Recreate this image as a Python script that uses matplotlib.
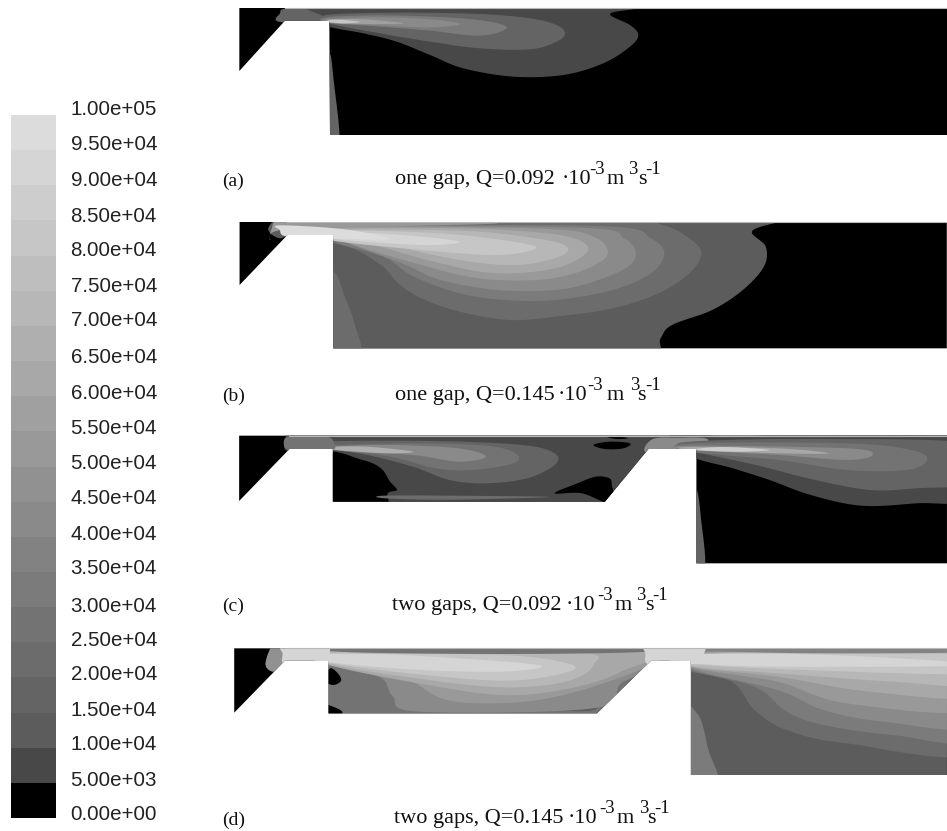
import matplotlib
matplotlib.use('Agg')
import matplotlib.pyplot as plt
from matplotlib.patches import Polygon
import numpy as np

W, H = 947, 831

# colour scale
bar_grays = [0, 72, 92, 100, 108, 115, 123, 130, 138, 145, 153, 160, 168, 175, 183, 190, 198, 205, 213, 220]
bar_labels = ['0.00e+00', '5.00e+03', '1.00e+04', '1.50e+04', '2.00e+04', '2.50e+04', '3.00e+04',
              '3.50e+04', '4.00e+04', '4.50e+04', '5.00e+04', '5.50e+04', '6.00e+04', '6.50e+04',
              '7.00e+04', '7.50e+04', '8.00e+04', '8.50e+04', '9.00e+04', '9.50e+04', '1.00e+05']
bar_label_y = [812, 778, 742, 708, 672, 638, 604, 567, 532, 496, 461, 426, 391, 355, 318, 284, 248, 214, 178, 143, 107]

# panel (a) outlines
a_domain = [(28, 24), (2151, 24), (2151, 405), (300, 405), (298, 62), (165, 62), (28, 213)]
a_gap = [(150, 66), (150, 40), (170, 25), (300, 20), (320, 66)]
a_wall = [(298, 170), (312, 250), (328, 430), (285, 430)]
a_l1 = [(290, 78), (400, 100), (500, 125), (600, 165), (700, 205), (850, 230), (1000, 225), (1120, 190),
        (1200, 140), (1225, 105), (1200, 75), (1140, 42), (1220, 26), (1300, 10), (800, 10), (250, 10), (280, 50)]
a_l2 = [(290, 68), (450, 100), (600, 125), (750, 145), (900, 148), (980, 125), (1005, 100), (980, 75),
        (900, 55), (750, 42), (500, 38), (290, 45)]
a_l3 = [(290, 68), (450, 80), (600, 92), (750, 107), (830, 85), (780, 65), (650, 52), (450, 46), (290, 52)]
a_l4 = [(295, 68), (450, 76), (600, 82), (690, 72), (600, 58), (450, 52), (295, 58)]
a_l5 = [(298, 68), (400, 72), (520, 70), (400, 58), (298, 58)]
a_l6 = [(298, 66), (340, 70), (390, 66), (340, 60), (298, 60)]
a_shapes = [(3, a_gap), (1, a_l1), (3, a_wall), (3, a_l2), (6, a_l3), (8, a_l4), (11, a_l5), (16, a_l6)]

# panel (b) outlines
b_domain = [(25, 36), (1873, 36), (1873, 415), (270, 415), (270, 75), (150, 75), (25, 225)]
b_l1 = [(1460, 30), (1365, 62), (1400, 110), (1395, 170), (1340, 240), (1260, 300), (1155, 345), (1125, 385),
        (1095, 450), (800, 470), (200, 470), (200, 85), (130, 85), (100, 60), (115, 30), (125, 20), (300, 20),
        (1400, 20), (1500, 20)]
b_wall = [(275, 190), (300, 260), (325, 340), (340, 440), (240, 440), (240, 190)]
b_l2 = [(270, 100), (330, 120), (400, 170), (440, 220), (500, 265), (600, 305), (730, 330), (850, 320), (1000, 295),
        (1120, 250), (1200, 190), (1232, 130), (1200, 85), (1130, 45), (1000, 30), (240, 30), (240, 100)]
b_l3 = [(270, 95), (400, 140), (480, 200), (600, 250), (720, 270), (850, 270), (1000, 240), (1100, 190),
        (1135, 130), (1100, 85), (1000, 50), (500, 45), (250, 50)]
b_l4 = [(300, 95), (450, 160), (550, 210), (700, 240), (850, 240), (950, 215), (1040, 170), (1060, 125),
        (1030, 85), (950, 55), (500, 48), (260, 50)]
b_l5 = [(300, 95), (500, 165), (650, 205), (800, 210), (900, 190), (975, 150), (985, 115), (950, 80),
        (850, 58), (500, 50), (260, 55)]
b_l6 = [(350, 95), (550, 160), (700, 190), (850, 175), (930, 130), (920, 95), (830, 70), (600, 55), (260, 58)]
b_l7 = [(400, 100), (600, 150), (750, 165), (860, 140), (880, 110), (800, 85), (600, 62), (260, 62)]
b_l8 = [(260, 90), (500, 120), (700, 135), (800, 115), (740, 95), (550, 70), (260, 62)]
b_l9 = [(260, 85), (500, 105), (600, 95), (450, 75), (260, 65)]
b_throat = [(130, 60), (150, 80), (270, 85), (420, 88), (300, 58), (130, 46)]
b_top = [(125, 30), (200, 30), (350, 30), (700, 40), (300, 52), (125, 62), (105, 90), (108, 60)]
b_shapes = [(2, b_l1), (4, b_wall), (4, b_l2), (6, b_l3), (8, b_l4), (10, b_l5), (12, b_l6), (14, b_l7),
            (16, b_l8), (18, b_l9), (10, b_top), (19, b_throat)]

# panel (c) outlines
c_domain = [(20, 32), (1568, 32), (1568, 415), (1020, 415), (1020, 72), (915, 72), (820, 230), (225, 230),
            (225, 72), (130, 72), (20, 228)]
c_base = [(118, 60), (122, 35), (130, 15), (300, 15), (1640, 15), (1640, 40), (1300, 42), (1020, 45), (1000, 260),
          (800, 270), (195, 270), (195, 80), (130, 80)]
c_black1 = [(205, 88), (290, 105), (330, 130), (350, 170), (365, 195), (345, 205), (335, 250), (205, 250)]
c_black2 = [(710, 205), (760, 175), (800, 155), (830, 160), (835, 180), (840, 240), (770, 205)]
c_black3 = [(795, 60), (830, 50), (875, 55), (860, 70), (820, 72)]
c_black4 = [(825, 36), (850, 34), (870, 40), (845, 42)]
c_strip = [(335, 212), (480, 212), (700, 216), (480, 224), (340, 220)]
c1_l2 = [(210, 70), (300, 90), (400, 125), (480, 165), (560, 175), (650, 160), (710, 120), (710, 85), (640, 60),
         (450, 48), (210, 50)]
c1_l3 = [(210, 72), (350, 95), (450, 130), (530, 135), (620, 115), (625, 85), (560, 62), (400, 55), (210, 62)]
c1_l4 = [(225, 74), (400, 90), (500, 110), (560, 95), (500, 70), (350, 60), (225, 65)]
c1_l5 = [(225, 74), (340, 85), (400, 80), (300, 65), (225, 66)]
c_gap = [(118, 60), (125, 36), (170, 34), (215, 36), (228, 55), (225, 74), (175, 76), (130, 76)]
c_throat = [(908, 80), (925, 42), (980, 38), (1040, 40), (1045, 60), (1040, 78), (970, 80)]
c_right_l1 = [(1005, 90), (1100, 130), (1180, 165), (1270, 210), (1380, 242), (1500, 235), (1640, 215), (1640, 20),
              (1005, 20)]
c_wall = [(1020, 190), (1030, 280), (1038, 430), (1000, 430), (1000, 190)]
c2_l2 = [(1005, 75), (1150, 120), (1280, 165), (1400, 195), (1500, 190), (1640, 170), (1640, 60), (1300, 42), (1005, 50)]
c2_l3 = [(1005, 80), (1200, 105), (1350, 135), (1480, 135), (1525, 105), (1490, 75), (1350, 55), (1005, 55)]
c2_l4 = [(1005, 75), (1200, 90), (1350, 105), (1405, 90), (1350, 70), (1005, 62)]
c2_l5 = [(1005, 74), (1200, 85), (1310, 85), (1200, 70), (1005, 66)]
c2_l6 = [(1015, 74), (1100, 80), (1180, 75), (1080, 66)]
c_shapes = [(1, c_base), (1, c_right_l1), (0, c_black1), (0, c_black2), (0, c_black3), (0, c_black4), (4, c_strip),
            (3, c_wall), (3, c1_l2), (5, c1_l3), (8, c1_l4), (13, c1_l5), (5, c_gap), (8, c_throat),
            (3, c2_l2), (5, c2_l3), (8, c2_l4), (12, c2_l5), (17, c2_l6)]

# panel (d) outlines
d_domain = [(20, 25), (1568, 25), (1568, 405), (1012, 405), (1012, 62), (925, 62), (808, 220), (225, 220),
            (225, 62), (130, 62), (20, 218)]
d_cavity = [(195, 30), (950, 30), (950, 80), (820, 250), (195, 250)]
d_dark = [(680, 195), (760, 172), (815, 178), (795, 212), (700, 208)]
d_c2 = [(300, 85), (345, 120), (365, 170), (420, 215), (800, 205), (860, 130), (930, 50), (300, 30)]
d_c3 = [(215, 72), (380, 110), (470, 175), (560, 190), (680, 180), (800, 140), (930, 70), (925, 25), (215, 25)]
d_c4 = [(215, 70), (400, 125), (600, 165), (750, 145), (860, 95), (900, 30), (215, 30)]
d_c5 = [(215, 68), (400, 112), (600, 142), (740, 125), (800, 75), (750, 35), (215, 35)]
d_c6 = [(215, 66), (400, 100), (600, 122), (720, 105), (755, 75), (600, 45), (215, 45)]
d_c7 = [(200, 62), (400, 88), (600, 95), (680, 75), (400, 46), (200, 42)]
d_blob1 = [(228, 85), (245, 100), (252, 122), (235, 135), (215, 120)]
d_blob2 = [(215, 195), (240, 203), (255, 218), (235, 235), (210, 230)]
d_left = [(100, 22), (118, 15), (135, 62), (108, 95), (88, 75)]
d_strip = [(240, 20), (915, 18), (905, 36), (600, 42), (260, 36)]
d_gap1 = [(122, 18), (175, 10), (222, 10), (228, 40), (224, 72), (175, 74), (128, 72), (125, 40)]
d_gap2 = [(912, 15), (980, 12), (1040, 15), (1040, 45), (1040, 70), (970, 72), (918, 72), (913, 40)]
d_r1 = [(990, 20), (1640, 20), (1640, 430), (990, 430)]
d_r_wall = [(990, 200), (1030, 230), (1050, 330), (1070, 430), (990, 430)]
d_r2 = [(990, 85), (1100, 125), (1150, 210), (1220, 270), (1350, 310), (1640, 335), (1640, 30), (990, 30)]
d_r3 = [(1000, 85), (1150, 140), (1220, 215), (1300, 255), (1450, 285), (1640, 295), (1640, 32), (1000, 32)]
d_r4 = [(1012, 85), (1200, 150), (1300, 210), (1430, 245), (1640, 255), (1640, 35), (1012, 35)]
d_r5 = [(1012, 82), (1200, 125), (1350, 190), (1640, 210), (1640, 38), (1012, 38)]
d_r6 = [(1012, 80), (1200, 110), (1400, 155), (1640, 170), (1640, 40), (1012, 40)]
d_r7 = [(1012, 78), (1200, 100), (1450, 125), (1640, 135), (1640, 42), (1012, 42)]
d_r8 = [(1012, 72), (1300, 92), (1640, 100), (1640, 45), (1012, 45)]
d_r9 = [(1012, 68), (1200, 80), (1640, 75), (1300, 44), (1012, 44)]
d_r_top = [(1040, 18), (1640, 18), (1640, 36), (1300, 40), (1050, 32)]
d_shapes = [(5, d_cavity), (2, d_dark), (8, d_c2), (10, d_c3), (12, d_c4), (14, d_c5), (16, d_c6), (18, d_c7),
            (0, d_blob1), (0, d_blob2), (9, d_left), (5, d_strip), (18, d_gap1),
            (2, d_r1), (6, d_r_wall), (4, d_r2), (6, d_r3), (8, d_r4), (10, d_r5), (12, d_r6), (14, d_r7),
            (16, d_r8), (18, d_r9), (7, d_r_top), (18, d_gap2)]

# captions: text, x pixel, raised or not
caption_a = [('one gap, Q=0.092', 395, 0), ('·10', 562, 0), ('-3', 589, 1), ('m', 607, 0),
             ('3', 628, 1), ('s', 638, 0), ('-1', 645, 1)]
caption_b = [('one gap, Q=0.145', 395, 0), ('·10', 558, 0), ('-3', 587, 1), ('m', 607, 0),
             ('3', 630, 1), ('s', 637, 0), ('-1', 645, 1)]
caption_c = [('two gaps, Q=0.092', 392, 0), ('·10', 566, 0), ('-3', 597, 1), ('m', 615, 0),
             ('3', 636, 1), ('s', 645, 0), ('-1', 652, 1)]
caption_d = [('two gaps, Q=0.145', 394, 0), ('·10', 568, 0), ('-3', 599, 1), ('m', 617, 0),
             ('3', 639, 1), ('s', 647, 0), ('-1', 654, 1)]
panel_letters = ['(a)', '(b)', '(c)', '(d)']
letter_y = [186, 401, 611, 825]
caption_y = [184, 400, 610, 823]
captions = [caption_a, caption_b, caption_c, caption_d]


def gray(level):
    v = bar_grays[level] / 255
    return (v, v, v)


def smooth(pts, n=12):
    # closed catmull-rom through the points
    p = np.array(pts, dtype=float)
    t = np.linspace(0, 1, n, endpoint=False)[:, None]
    out = []
    for i in range(len(p)):
        p0, p1, p2, p3 = p[i - 1], p[i], p[(i + 1) % len(p)], p[(i + 2) % len(p)]
        out.append(0.5 * (2 * p1 + (p2 - p0) * t + (2 * p0 - 5 * p1 + 4 * p2 - p3) * t ** 2
                          + (3 * p1 - p0 - 3 * p2 + p3) * t ** 3))
    return np.vstack(out)


def draw_panel(x0, y0, x_scale, height, domain, shapes):
    ax = fig.add_axes([x0 / W, 1 - (y0 + height) / H, (W - x0) / W, height / H])
    ax.set_xlim(0, (W - x0) * x_scale)
    ax.set_ylim(height * 3, 0)
    ax.axis('off')
    clip = Polygon(domain, closed=True, fc='black', ec='none', zorder=1)
    ax.add_patch(clip)
    for i, (level, pts) in enumerate(shapes):
        p = Polygon(smooth(pts), closed=True, fc=gray(level), ec='none', zorder=2 + i)
        ax.add_patch(p)
        p.set_clip_path(clip)
    # faint light edge along the top of the channel
    xs = [d[0] for d in domain]
    ax.plot([domain[-2][0], max(xs)], [domain[0][1]] * 2, color='#b8b8b8', lw=0.8, zorder=100)
    return ax


fig = plt.figure(figsize=(W / 100, H / 100), dpi=100, facecolor='white')

# colour bar, a bit taller than its bands so the top label stays in view
band_px = 703 / len(bar_grays)
bar_top = len(bar_grays) + 0.4
bar_ax = fig.add_axes([11 / W, 1 - 818 / H, 45 / W, bar_top * band_px / H])
bar_ax.bar(0, 1, width=1, bottom=np.arange(len(bar_grays)), color=[gray(i) for i in range(len(bar_grays))])
bar_ax.set_xlim(-0.5, 0.5)
bar_ax.set_xticks([])
bar_ax.yaxis.tick_right()
bar_ax.set_yticks([(818 - y) / band_px for y in bar_label_y])
bar_ax.set_yticklabels(bar_labels, family='Liberation Sans', fontsize=14.8, color='#222222')
bar_ax.set_ylim(0, bar_top)
bar_ax.tick_params(axis='y', length=0, pad=10.5)
for s in bar_ax.spines.values():
    s.set_visible(False)

draw_panel(230, 0, 3, 140, a_domain, a_shapes)
draw_panel(230, 210, 2.613, 142, b_domain, b_shapes)
draw_panel(230, 425, 2.187, 142, c_domain, c_shapes)
draw_panel(225, 640, 2.172, 140, d_domain, d_shapes)

# captions go on a full figure axes in pixels
top = fig.add_axes([0, 0, 1, 1], facecolor='none')
top.set_xlim(0, W)
top.set_ylim(H, 0)
top.axis('off')
for letter, ly, cap, cy in zip(panel_letters, letter_y, captions, caption_y):
    top.text(222, ly, letter, family='Liberation Serif', fontsize=14, va='baseline', color='#111111')
    for txt, x, raised in cap:
        if raised:
            top.text(x, cy - 10, txt, family='Liberation Serif', fontsize=13.5, va='baseline', color='#111111')
        else:
            top.text(x, cy, txt, family='Liberation Serif', fontsize=16, va='baseline', color='#111111')

fig.savefig('out.png', dpi=100)
plt.close()
